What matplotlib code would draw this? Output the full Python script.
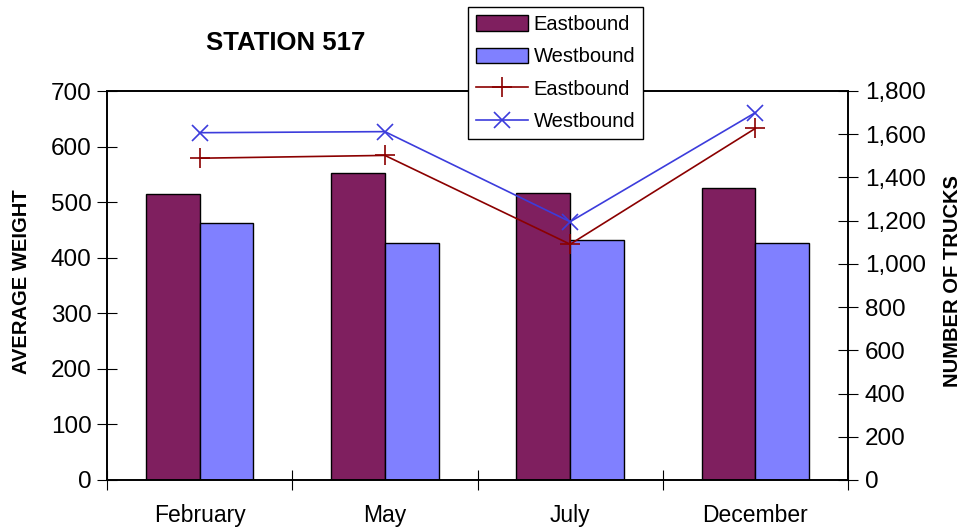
import matplotlib
matplotlib.use("Agg")
import matplotlib.pyplot as plt
from matplotlib.ticker import FuncFormatter, FixedLocator
import numpy as np

plt.rcParams['font.family'] = ['Liberation Sans', 'DejaVu Sans']

# Data
months = ["February", "May", "July", "December"]
weight_east = [514, 553, 516, 525]
weight_west = [463, 427, 432, 427]
trucks_east = [1489, 1502, 1091, 1627]
trucks_west = [1607, 1612, 1195, 1700]

W, H = 968, 531
fig = plt.figure(figsize=(W / 100, H / 100), dpi=100)
ax = fig.add_axes([107 / W, 1 - 480 / H, (848 - 107) / W, (480 - 91) / H])
ax2 = ax.twinx()

x = np.arange(len(months))
bw = 0.29
b1 = ax.bar(x - bw / 2, weight_east, bw, color="#7F1F5F", edgecolor="black",
            linewidth=1.0, label="Eastbound", zorder=2)
b2 = ax.bar(x + bw / 2, weight_west, bw, color="#8080FF", edgecolor="black",
            linewidth=1.0, label="Westbound", zorder=2)

l1, = ax2.plot(x, trucks_east, color="#8B0000", marker="+", markersize=14,
               markeredgewidth=1.2, linewidth=1.2, label="Eastbound")
l2, = ax2.plot(x, trucks_west, color="#3C3CDC", marker="x", markersize=11,
               markeredgewidth=1.2, linewidth=1.2, label="Westbound")

ax.set_xlim(-0.5, len(months) - 0.5)
ax.set_ylim(0, 700)
ax2.set_ylim(0, 1800)
ax.set_yticks(np.arange(0, 701, 100))
ax2.set_yticks(np.arange(0, 1801, 200))
ax2.yaxis.set_major_formatter(FuncFormatter(lambda v, p: f"{int(v):,}"))

# category boundaries get tick marks; names sit at the centres
ax.xaxis.set_major_locator(FixedLocator(np.arange(-0.5, len(months), 1.0)))
ax.xaxis.set_major_formatter(FuncFormatter(lambda v, p: ""))
ax.xaxis.set_minor_locator(FixedLocator(x))
ax.set_xticklabels(months, minor=True)
ax.tick_params(axis="x", which="minor", length=0, labelsize=16.5, pad=17)
ax.tick_params(axis="x", which="major", direction="inout", length=14, width=0.8)
ax.tick_params(axis="y", direction="inout", length=14, width=0.8, labelsize=17.5, pad=4)
ax2.tick_params(axis="y", direction="inout", length=14, width=0.8, labelsize=17.5, pad=5)

for a in (ax, ax2):
    for s in a.spines.values():
        s.set_linewidth(1.2)
        s.set_color("black")

fig.text(286 / W, 1 - 43 / H, "STATION 517", ha="center", va="center",
         fontsize=18.5, fontweight="bold")
fig.text(22 / W, 1 - 282 / H, "AVERAGE WEIGHT", rotation=90, ha="center",
         va="center", fontsize=14.5, fontweight="bold")
fig.text(953 / W, 1 - 281 / H, "NUMBER OF TRUCKS", rotation=90, ha="center",
         va="center", fontsize=14.5, fontweight="bold")

leg = fig.legend([b1, b2, l1, l2], ["Eastbound", "Westbound", "Eastbound", "Westbound"],
                 loc="upper left", bbox_to_anchor=(468 / W, 1 - 7 / H),
                 fontsize=14.5, frameon=True, fancybox=False, framealpha=1,
                 edgecolor="black", handlelength=2.6, handleheight=0.8,
                 borderpad=0.4, labelspacing=0.66, handletextpad=0.25,
                 borderaxespad=0)
leg.get_frame().set_linewidth(1.0)

fig.savefig("out.png", dpi=100)
